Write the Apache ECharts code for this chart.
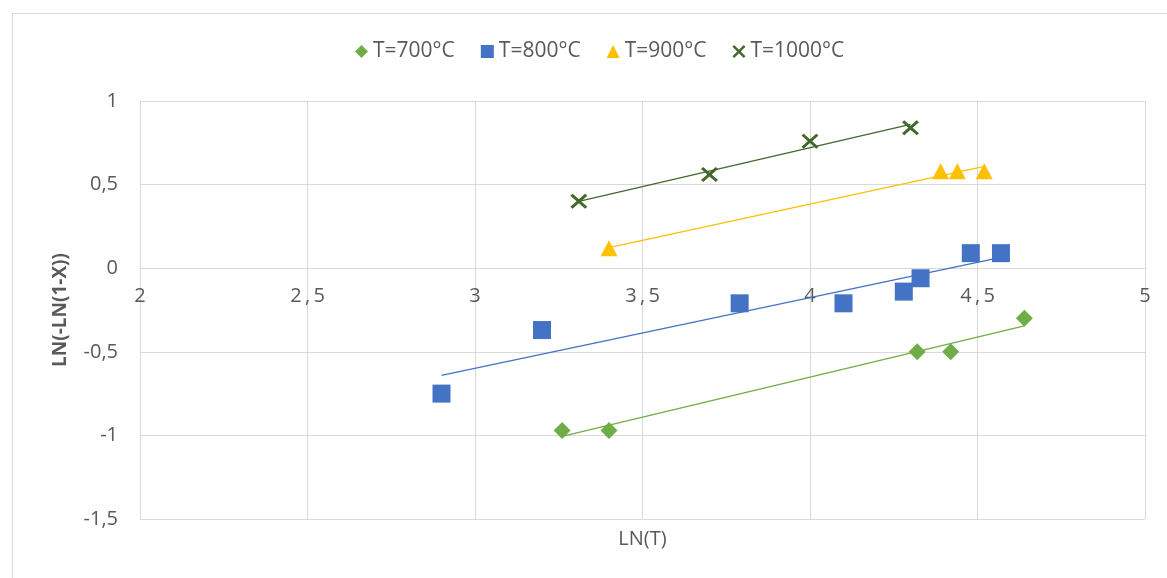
<!DOCTYPE html>
<html>
<head>
<meta charset="utf-8">
<script src="https://cdn.jsdelivr.net/npm/echarts@6/dist/echarts.min.js"></script>
<style>
html,body{margin:0;padding:0;background:#fff;}
#c{width:1167px;height:578px;}
</style>
</head>
<body>
<div id="c"></div>
<script>
// ---- data ----
var seriesNames = ['T=700°C', 'T=800°C', 'T=900°C', 'T=1000°C'];
var x700 = [3.26, 3.40, 4.32, 4.42, 4.64];
var y700 = [-0.97, -0.97, -0.50, -0.50, -0.30];
var x800 = [2.90, 3.20, 3.79, 4.10, 4.28, 4.33, 4.48, 4.57];
var y800 = [-0.75, -0.37, -0.21, -0.21, -0.14, -0.06, 0.09, 0.09];
var x900 = [3.40, 4.39, 4.44, 4.52];
var y900 = [0.12, 0.58, 0.58, 0.58];
var x1000 = [3.31, 3.70, 4.00, 4.30];
var y1000 = [0.40, 0.56, 0.76, 0.84];
var xTicks = [2, 2.5, 3, 3.5, 4, 4.5, 5];
var yTicks = [-1.5, -1, -0.5, 0, 0.5, 1];

var colors = ['#70AD47', '#4472C4', '#FFC000', '#43682B'];
var xPath = 'path://M1.3,0 L5,3.7 L8.7,0 L10,1.3 L6.3,5 L10,8.7 L8.7,10 L5,6.3 L1.3,10 L0,8.7 L3.7,5 L0,1.3 Z';
var symbols = ['diamond', 'rect', 'triangle', xPath];
var symSizes = [[17, 17], [18, 18], [17, 16], [17, 15]];

function pairs(xs, ys) { return xs.map(function (x, i) { return [x, ys[i]]; }); }
function trend(xs, ys) {
  var n = xs.length, mx = 0, my = 0;
  for (var i = 0; i < n; i++) { mx += xs[i]; my += ys[i]; }
  mx /= n; my /= n;
  var sxy = 0, sxx = 0;
  for (var j = 0; j < n; j++) { sxy += (xs[j] - mx) * (ys[j] - my); sxx += (xs[j] - mx) * (xs[j] - mx); }
  var b = sxy / sxx, a = my - b * mx;
  var lo = Math.min.apply(null, xs), hi = Math.max.apply(null, xs);
  return [[lo, a + b * lo], [hi, a + b * hi]];
}

var allX = [x700, x800, x900, x1000];
var allY = [y700, y800, y900, y1000];
var series = [];
for (var k = 0; k < 4; k++) {
  series.push({
    name: seriesNames[k] + ' trend', type: 'line', data: trend(allX[k], allY[k]),
    showSymbol: false, symbol: 'none', silent: true, z: 2,
    lineStyle: { color: colors[k], width: 1.3 }, itemStyle: { color: colors[k] }
  });
}
for (var m = 0; m < 4; m++) {
  series.push({
    name: seriesNames[m], type: 'scatter', data: pairs(allX[m], allY[m]),
    symbol: symbols[m], symbolSize: symSizes[m], z: 3,
    itemStyle: { color: colors[m], opacity: 1 }
  });
}

var txt = '#595959';
var font = 'Open Sans';
var gridTop = 101, gridH = 418;
var yMin = yTicks[0], yMax = yTicks[yTicks.length - 1];
// x axis crosses the y axis at 0 (as in the reference)
var zeroOffset = -gridH * (0 - yMin) / (yMax - yMin);

var chart = echarts.init(document.getElementById('c'), null, { renderer: 'canvas' });
chart.setOption({
  animation: false,
  backgroundColor: '#fff',
  color: colors,
  graphic: [{
    type: 'rect', left: 10, top: 11, silent: true, z: -10,
    shape: { width: 1200, height: 620 },
    style: { fill: 'none', stroke: '#d9d9d9', lineWidth: 1 }
  }],
  legend: {
    data: seriesNames.map(function (n, i) {
      return { name: n, icon: symbols[i] };
    }),
    left: 350, top: 36, itemWidth: 13, itemHeight: 13, itemGap: 26,
    textStyle: { color: txt, fontSize: 21, fontFamily: font }
  },
  grid: { left: 140, top: gridTop, width: 1005, height: gridH, containLabel: false, outerBoundsMode: 'none' },
  xAxis: {
    type: 'value', min: xTicks[0], max: xTicks[xTicks.length - 1], interval: 0.5,
    position: 'bottom', offset: zeroOffset,
    name: 'LN(T)', nameLocation: 'middle', nameGap: 261,
    nameTextStyle: { color: txt, fontSize: 20, fontFamily: font },
    axisLine: { show: true, onZero: false, lineStyle: { color: '#d9d9d9' } },
    axisTick: { show: false },
    axisLabel: {
      color: txt, fontSize: 20, fontFamily: font, margin: 18,
      formatter: function (v) { return String(v).replace('.', '\u2009,\u2009'); }
    },
    splitLine: { show: true, lineStyle: { color: '#d9d9d9', width: 1 } }
  },
  yAxis: {
    type: 'value', min: yMin, max: yMax, interval: 0.5,
    name: 'LN(-LN(1-X))', nameLocation: 'middle', nameGap: 70,
    nameTextStyle: { color: txt, fontSize: 19, fontFamily: font, fontWeight: 'bold' },
    axisLine: { show: false },
    axisTick: { show: false },
    axisLabel: {
      color: txt, fontSize: 20, fontFamily: font, margin: 22,
      formatter: function (v) { return String(v).replace('.', ','); }
    },
    splitLine: { show: true, lineStyle: { color: '#d9d9d9', width: 1 } }
  },
  series: series
});
</script>
</body>
</html>
